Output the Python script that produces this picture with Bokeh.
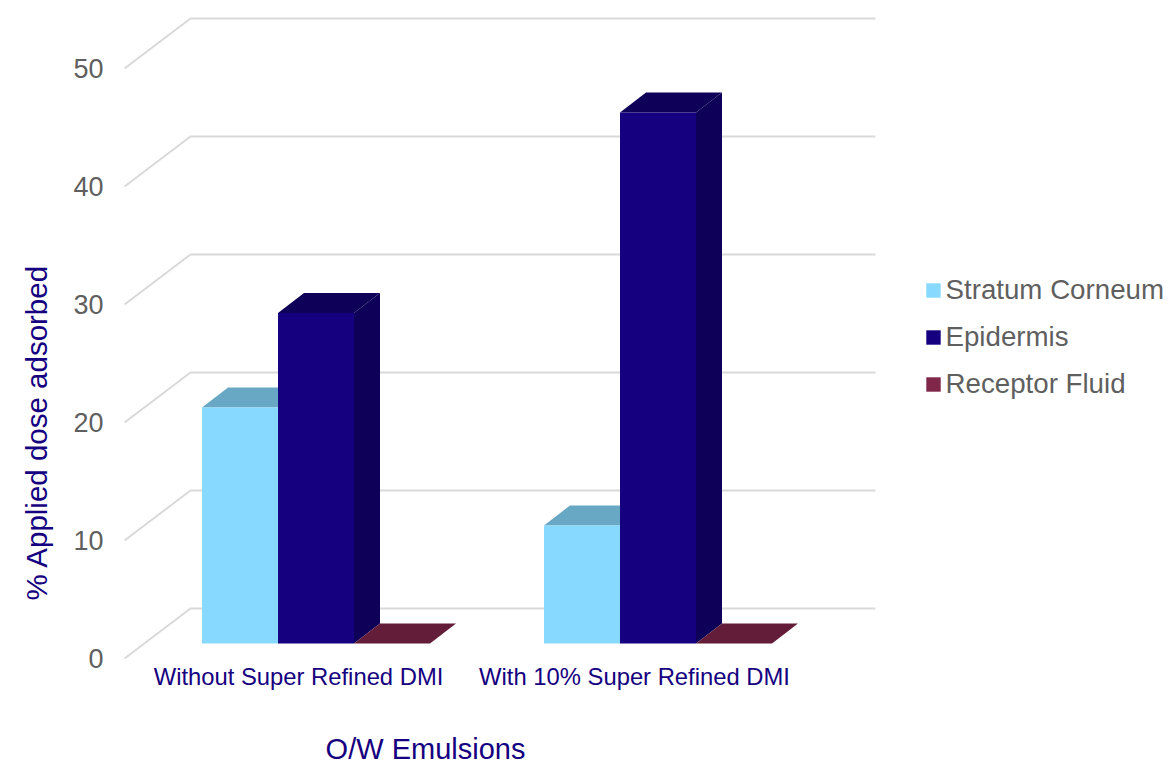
from bokeh.plotting import figure
from bokeh.models import Range1d, LinearAxis, FixedTicker, Legend, LegendItem, Title
from bokeh.core.properties import value
from bokeh.embed import file_html
from bokeh.resources import INLINE

categories = ["Without Super Refined DMI", "With 10% Super Refined DMI"]
series_names = ["Stratum Corneum", "Epidermis", "Receptor Fluid"]
stratum_corneum = [20, 10]
epidermis = [28, 45]
receptor_fluid = [0, 0]
y_ticks = [0, 10, 20, 30, 40, 50]

front_colors = ["#87d9ff", "#15007f", "#7f2649"]
top_colors = ["#68a8c4", "#0e0058", "#641d38"]
side_colors = ["#5a93ac", "#0e0058", "#561830"]

BLUE = "#15007f"
GREY = "#5f5f5f"
FONT = "Liberation Sans"

W, H = 1170, 765
L, R, T, B = 113, 1170, 0, 765     # frame edges in the page
PX_Y = 11.8                        # pixels for one percent
PX_X = 342.0                       # pixels between two groups
BASE_Y = 643.0                     # page y of value 0 on the bars' plane
GROUP0 = 315.5                     # page x of the first group's centre
BAR = 76.0 / PX_X
DX, DY = 26.0 / PX_X, 20.0 / PX_Y  # bar depth
WALL_DX, WALL_DY = 66.0 / PX_X, 50.0 / PX_Y
WALL_X = (190.0 - GROUP0) / PX_X
WALL_RIGHT = (875.0 - GROUP0) / PX_X
WALL_Y0 = 35.0 / PX_Y              # value 0 on the back wall

p = figure(width=W, height=H, output_backend="svg", toolbar_location=None,
           x_range=Range1d((L - GROUP0) / PX_X, (R - GROUP0) / PX_X),
           y_range=Range1d((BASE_Y - B) / PX_Y, (BASE_Y - T) / PX_Y),
           x_axis_location=None, y_axis_location=None,
           min_border_left=L, min_border_right=0, min_border_top=0,
           min_border_bottom=0, outline_line_color=None,
           background_fill_color="white", border_fill_color="white")
p.grid.visible = False

# The value labels sit on the front edge of the floor, the category
# labels slightly left of the bar groups, as in a 3-D projection.
p.extra_y_ranges["front"] = Range1d(-(B - 657.5) / PX_Y, (657.5 - T) / PX_Y)
p.extra_x_ranges["labels"] = Range1d((L - 298.0) / 336.0, (R - 298.0) / 336.0)

yax = LinearAxis(y_range_name="front", ticker=FixedTicker(ticks=y_ticks))
yax.axis_line_color = None
yax.major_tick_line_color = None
yax.minor_tick_line_color = None
yax.major_tick_out = 0
yax.minor_tick_out = 0
yax.major_label_text_font = FONT
yax.major_label_text_font_size = "27px"
yax.major_label_text_color = GREY
yax.major_label_standoff = 10
p.add_layout(yax, "left")

# Off-centre value-axis title, which a Title with an offset can do.
p.add_layout(Title(text="% Applied dose adsorbed", align="left", offset=B - 600, standoff=35,
                   text_font=FONT, text_font_style="normal", text_font_size="29.5px",
                   text_color=BLUE), "left")

# Category labels and the category-axis title, placed through the scales.
p.text(x=[0, 1], y=[(BASE_Y - 676.0) / PX_Y] * 2, x_range_name="labels", text=categories,
       text_font=value(FONT), text_font_size="23.8px", text_color=BLUE,
       text_align="center", text_baseline="middle")
p.text(x=[(425.0 - GROUP0) / PX_X], y=[(BASE_Y - 748.5) / PX_Y], text=["O/W Emulsions"],
       text_font=value(FONT), text_font_size="29px", text_color=BLUE,
       text_align="center", text_baseline="middle")

# Wall lines
p.multi_line(
    xs=[[WALL_X - WALL_DX, WALL_X, WALL_RIGHT] for _ in y_ticks],
    ys=[[v + WALL_Y0 - WALL_DY, v + WALL_Y0, v + WALL_Y0] for v in y_ticks],
    line_color="#d9d9d9", line_width=2)

# Bars
all_series = [stratum_corneum, epidermis, receptor_fluid]
items = []
for s, (name, values) in enumerate(zip(series_names, all_series)):
    lefts = [g + (s - 1.5) * BAR for g in range(len(values))]
    rights = [x + BAR for x in lefts]
    p.patches(
        xs=[[r, r + DX, r + DX, r] for r in rights],
        ys=[[0, DY, v + DY, v] for v in values],
        fill_color=side_colors[s], line_color=None)
    p.patches(
        xs=[[x, r, r + DX, x + DX] for x, r in zip(lefts, rights)],
        ys=[[v, v, v + DY, v + DY] for v in values],
        fill_color=top_colors[s], line_color=None)
    front = p.vbar(x=[x + BAR / 2 for x in lefts], top=values, bottom=0, width=BAR,
                   fill_color=front_colors[s], line_color=None)
    items.append(LegendItem(label=name, renderers=[front]))

legend = Legend(items=items, location=(923.5 - L, B - 400), orientation="vertical",
                glyph_width=18, glyph_height=18, label_standoff=4,
                label_text_font=FONT, label_text_font_size="27.7px",
                label_text_color=GREY, spacing=15, padding=0, margin=0,
                border_line_color=None, background_fill_alpha=0)
p.add_layout(legend, "center")

open("out.html", "w").write(file_html(p, INLINE))
